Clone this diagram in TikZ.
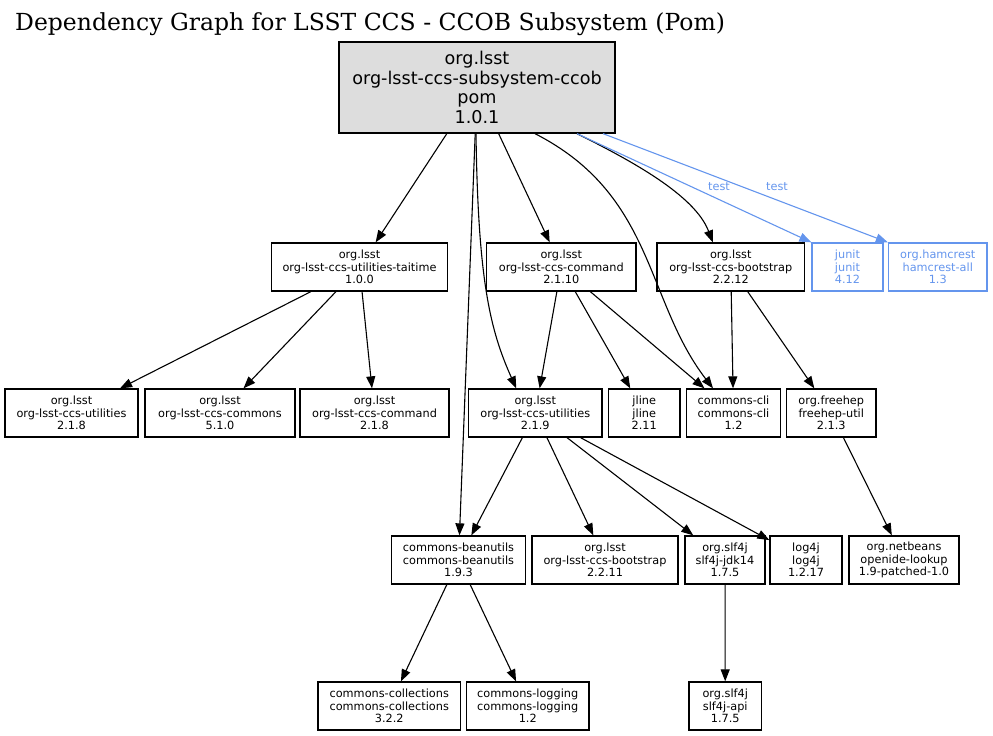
\documentclass[tikz,border=0pt]{standalone}
\usepackage{fontspec}
\setmainfont{DejaVu Sans}
\newfontfamily\titlefnt{DejaVu Serif}
\usetikzlibrary{arrows.meta}
\definecolor{testblue}{RGB}{100,149,237}
\definecolor{rootgray}{RGB}{221,221,221}
\newcommand\smallfnt{\fontsize{11.3}{12.4}\selectfont}
\newcommand\rootfnt{\fontsize{17.6}{19.7}\selectfont}
\begin{document}
\begin{tikzpicture}[x=1pt,y=-1pt,
  dep/.style={draw, line width=1.3pt, rectangle, inner sep=0pt, align=center,
    font=\smallfnt, minimum height=48pt},
  testdep/.style={dep, draw=testblue, text=testblue},
  edge/.style={-{Triangle[length=12pt,width=9pt]}, line width=1.1pt},
  testedge/.style={edge, draw=testblue},
  lbl/.style={font=\smallfnt, text=testblue, inner sep=0pt}]
\useasboundingbox (0,0) rectangle (993,736);
\node[anchor=base west, font=\titlefnt\fontsize{23.5}{26}\selectfont, inner sep=0pt] (title) at (15,30)
  {Dependency Graph for LSST CCS - CCOB Subsystem (Pom)};
% root
\node[dep, fill=rootgray, font=\rootfnt, minimum width=276pt, minimum height=91pt] (root) at (477,87.5)
  {org.lsst\\org-lsst-ccs-subsystem-ccob\\pom\\1.0.1};
% row 2
\node[dep, minimum width=176pt] (taitime) at (359.5,267) {org.lsst\\org-lsst-ccs-utilities-taitime\\1.0.0};
\node[dep, minimum width=149.5pt] (cmdA) at (561.25,267) {org.lsst\\org-lsst-ccs-command\\2.1.10};
\node[dep, minimum width=147.5pt] (bootA) at (730.75,267) {org.lsst\\org-lsst-ccs-bootstrap\\2.2.12};
\node[testdep, minimum width=71pt] (junit) at (847.5,267) {junit\\junit\\4.12};
\node[testdep, minimum width=98.5pt] (hamcrest) at (937.75,267) {org.hamcrest\\hamcrest-all\\1.3};
% row 3
\node[dep, minimum width=133pt] (utilA) at (71.5,413) {org.lsst\\org-lsst-ccs-utilities\\2.1.8};
\node[dep, minimum width=150pt] (commons) at (220,413) {org.lsst\\org-lsst-ccs-commons\\5.1.0};
\node[dep, minimum width=149pt] (cmdB) at (374.5,413) {org.lsst\\org-lsst-ccs-command\\2.1.8};
\node[dep, minimum width=133.5pt] (utilB) at (535.25,413) {org.lsst\\org-lsst-ccs-utilities\\2.1.9};
\node[dep, minimum width=71.5pt] (jline) at (644.25,413) {jline\\jline\\2.11};
\node[dep, minimum width=94pt] (cli) at (733.5,413) {commons-cli\\commons-cli\\1.2};
\node[dep, minimum width=89.5pt] (freehep) at (831.25,413) {org.freehep\\freehep-util\\2.1.3};
% row 4
\node[dep, minimum width=134pt] (beanutils) at (458.5,560) {commons-beanutils\\commons-beanutils\\1.9.3};
\node[dep, minimum width=146pt] (bootB) at (605,560) {org.lsst\\org-lsst-ccs-bootstrap\\2.2.11};
\node[dep, minimum width=80pt] (jdk) at (725,560) {org.slf4j\\slf4j-jdk14\\1.7.5};
\node[dep, minimum width=72pt] (logfj) at (806,560) {log4j\\log4j\\1.2.17};
\node[dep, minimum width=110pt] (netbeans) at (904,560) {org.netbeans\\openide-lookup\\1.9-patched-1.0};
% row 5
\node[dep, minimum width=142.5pt] (collections) at (389.25,706) {commons-collections\\commons-collections\\3.2.2};
\node[dep, minimum width=122.5pt] (logging) at (527.75,706) {commons-logging\\commons-logging\\1.2};
\node[dep, minimum width=72.5pt] (api) at (725.25,706) {org.slf4j\\slf4j-api\\1.7.5};
% edges from root
\draw[edge] (root) -- (taitime);
\draw[edge] (root) -- (beanutils);
\draw[edge] ([xshift=-1pt]root.south) .. controls (478,280) and (490,330) .. ([xshift=-19pt]utilB.north);
\draw[edge] (root) -- (cmdA);
\draw[edge] ([xshift=58pt]root.south) .. controls (655,195) and (645,300) .. ([xshift=-20.5pt]cli.north);
\draw[edge] ([xshift=100pt]root.south) .. controls (630,160) and (695,195) .. ([xshift=-18pt]bootA.north);
\draw[testedge] ([xshift=100pt]root.south) -- (junit.north west);
\draw[testedge] ([xshift=126pt]root.south) -- (hamcrest.north west);
\node[lbl] (testA) at (719,187) {test};
\node[lbl] (testB) at (777,187) {test};
% row 2 edges
\draw[edge] (taitime) -- (utilA);
\draw[edge] (taitime) -- (commons);
\draw[edge] (taitime) -- (cmdB);
\draw[edge] (cmdA) -- (utilB);
\draw[edge] (cmdA) -- (jline);
\draw[edge] (cmdA) -- (cli);
\draw[edge] (bootA) -- (cli);
\draw[edge] (bootA) -- (freehep);
% row 3 edges
\draw[edge] (utilB) -- (beanutils);
\draw[edge] (utilB) -- (bootB);
\draw[edge] (utilB) -- (jdk);
\draw[edge] (utilB) -- (logfj);
\draw[edge] (freehep) -- (netbeans);
% row 4 edges
\draw[edge] (beanutils) -- (collections);
\draw[edge] (beanutils) -- (logging);
\draw[edge] (jdk) -- (api);
\end{tikzpicture}
\end{document}
